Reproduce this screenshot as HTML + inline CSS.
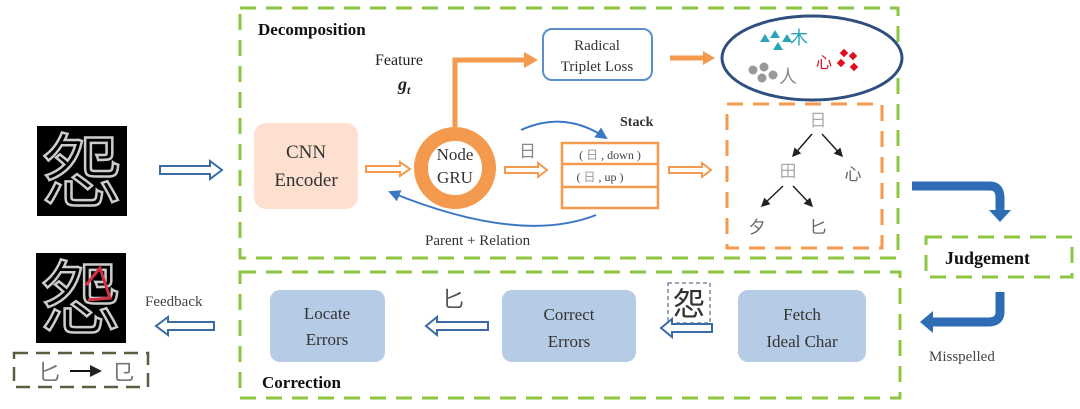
<!DOCTYPE html>
<html><head><meta charset="utf-8"><style>
html,body{margin:0;padding:0;background:#fff;}
svg{display:block;font-family:"Liberation Serif","Noto Serif CJK SC",serif;}
.cjk{font-family:"Noto Sans CJK SC",sans-serif;}
.sr{font-family:"Liberation Serif",serif;}
</style></head><body>
<svg width="1080" height="409" viewBox="0 0 1080 409" xmlns="http://www.w3.org/2000/svg">
<defs>
<marker id="bk" markerWidth="6" markerHeight="6" refX="5" refY="3" orient="auto" markerUnits="strokeWidth"><path d="M0,0 L6,3 L0,6 z" fill="#222"/></marker>
<marker id="bl" markerWidth="6" markerHeight="6" refX="5" refY="3" orient="auto" markerUnits="strokeWidth"><path d="M0,0 L6,3 L0,6 z" fill="#3b78c4"/></marker>
</defs>
<rect x="240" y="8" width="658" height="250" fill="none" stroke="#8dc63f" stroke-width="3" stroke-dasharray="16,10"/>
<rect x="240" y="272" width="660" height="126" fill="none" stroke="#8dc63f" stroke-width="3" stroke-dasharray="16,10"/>
<rect x="926" y="237" width="146" height="40" fill="none" stroke="#8dc63f" stroke-width="3" stroke-dasharray="16,10"/>
<text x="258" y="35" font-size="17" font-weight="bold" fill="#111">Decomposition</text>
<text x="262" y="388" font-size="17" font-weight="bold" fill="#111">Correction</text>
<text x="945" y="264" font-size="18" font-weight="bold" fill="#111">Judgement</text>

<rect x="37" y="126" width="90" height="90" fill="#000"/>
<text x="82" y="200" font-size="80" text-anchor="middle" fill="none" stroke="#ccc" stroke-width="2.5" class="cjk">怨</text>
<rect x="36" y="253" width="90" height="90" fill="#000"/>
<text x="81" y="327" font-size="80" text-anchor="middle" fill="none" stroke="#ccc" stroke-width="2.5" class="cjk">怨</text>
<path d="M86,285 L100,268 L110,298 L88,300" fill="none" stroke="#d03040" stroke-width="3"/>
<rect x="14" y="353" width="134" height="34" fill="none" stroke="#556040" stroke-width="2.5" stroke-dasharray="14,8"/>
<text x="38" y="380" font-size="22" fill="#777" class="cjk">匕</text>
<line x1="70" y1="371" x2="100" y2="371" stroke="#111" stroke-width="2" marker-end="url(#bk)"/>
<text x="112" y="380" font-size="22" fill="#777" class="cjk">㔾</text>

<path d="M160,166 L210,166 L210,161 L222,170 L210,179 L210,174 L160,174 z" fill="#fff" stroke="#3a6aa8" stroke-width="2"/>
<text x="145" y="306" font-size="15" fill="#444">Feedback</text>
<path d="M214,322 L168,322 L168,317 L156,326 L168,335 L168,330 L214,330 z" fill="#fff" stroke="#3a6aa8" stroke-width="2"/>

<rect x="254" y="123" width="104" height="86" rx="12" fill="#fde0cf"/>
<text x="306" y="158" font-size="19" text-anchor="middle" fill="#333">CNN</text>
<text x="306" y="186" font-size="19" text-anchor="middle" fill="#333">Encoder</text>
<path d="M366,166 L400,166 L400,162 L410,169 L400,176 L400,172 L366,172 z" fill="#fff" stroke="#f39a4e" stroke-width="2"/>
<circle cx="455" cy="168" r="34" fill="none" stroke="#f39a4e" stroke-width="14"/>
<text x="455" y="160" font-size="17" text-anchor="middle" fill="#333" class="sr">Node</text>
<text x="455" y="183" font-size="17" text-anchor="middle" fill="#333" class="sr">GRU</text>
<path d="M455,127 L455,60 L528,60" fill="none" stroke="#f39a4e" stroke-width="5"/>
<path d="M524,52 L538,60 L524,68 z" fill="#f39a4e"/>
<text x="375" y="65" font-size="16" fill="#222">Feature</text>
<text x="398" y="90" font-size="18" font-style="italic" font-weight="bold" fill="#222">g<tspan font-size="12" dy="4">t</tspan></text>

<rect x="543" y="29" width="109" height="51" rx="9" fill="#fff" stroke="#5b8fc9" stroke-width="2"/>
<text x="597" y="50" font-size="15" text-anchor="middle" fill="#333">Radical</text>
<text x="597" y="71" font-size="15" text-anchor="middle" fill="#333">Triplet Loss</text>
<path d="M670,58 L705,58" stroke="#f39a4e" stroke-width="5"/>
<path d="M703,51 L715,58 L703,65 z" fill="#f39a4e"/>
<ellipse cx="812" cy="58" rx="90" ry="42" fill="#fff" stroke="#2f4f7f" stroke-width="3"/>
<g fill="#2aa5b8"><path d="M760,42 l5,-8 l5,8z"/><path d="M770,38 l5,-8 l5,8z"/><path d="M773,50 l5,-8 l5,8z"/><path d="M782,42 l5,-8 l5,8z"/></g>
<text x="790" y="44" font-size="18" fill="#2aa5b8" class="cjk">木</text>
<g fill="#999"><circle cx="753" cy="70" r="4.5"/><circle cx="764" cy="67" r="4.5"/><circle cx="762" cy="78" r="4.5"/><circle cx="773" cy="75" r="4.5"/></g>
<text x="779" y="83" font-size="18" fill="#888" class="cjk">人</text>
<text x="816" y="68" font-size="16" fill="#e01020" class="cjk">心</text>
<g fill="#e01020"><rect x="841" y="50" width="6" height="6" transform="rotate(45 844 53)"/><rect x="850" y="53" width="6" height="6" transform="rotate(45 853 56)"/><rect x="838" y="60" width="6" height="6" transform="rotate(45 841 63)"/><rect x="851" y="64" width="6" height="6" transform="rotate(45 854 67)"/></g>

<text x="519" y="157" font-size="17" fill="#888" class="cjk">日</text>
<path d="M521,130 Q565,110 606,138" fill="none" stroke="#3b78c4" stroke-width="2" marker-end="url(#bl)"/>
<text x="620" y="126" font-size="14" font-weight="bold" fill="#333">Stack</text>
<path d="M505,167 L538,167 L538,163 L547,170 L538,177 L538,173 L505,173 z" fill="#fff" stroke="#f39a4e" stroke-width="2"/>
<rect x="562" y="143" width="96" height="65" fill="#fff" stroke="#f39a4e" stroke-width="2.5"/>
<line x1="562" y1="164" x2="658" y2="164" stroke="#f39a4e" stroke-width="2.5"/>
<line x1="562" y1="187" x2="658" y2="187" stroke="#f39a4e" stroke-width="2.5"/>
<text x="610" y="159" font-size="12" text-anchor="middle" fill="#444">( <tspan class="cjk" fill="#999">日</tspan> , down )</text>
<text x="600" y="181" font-size="12" text-anchor="middle" fill="#444">( <tspan class="cjk" fill="#999">日</tspan> , up )</text>
<path d="M596,215 Q520,245 390,192" fill="none" stroke="#3b78c4" stroke-width="2" marker-end="url(#bl)"/>
<text x="425" y="245" font-size="15" fill="#333">Parent  + Relation</text>
<path d="M669,167 L702,167 L702,163 L711,170 L702,177 L702,173 L669,173 z" fill="#fff" stroke="#f39a4e" stroke-width="2"/>

<rect x="727" y="104" width="155" height="144" fill="none" stroke="#f39a4e" stroke-width="3" stroke-dasharray="16,10"/>
<text x="818" y="126" font-size="17" text-anchor="middle" fill="#aaa" class="cjk">日</text>
<text x="788" y="177" font-size="17" text-anchor="middle" fill="#aaa" class="cjk">田</text>
<text x="853" y="180" font-size="17" text-anchor="middle" fill="#666" class="cjk">心</text>
<text x="757" y="233" font-size="17" text-anchor="middle" fill="#666" class="cjk">夕</text>
<text x="818" y="233" font-size="17" text-anchor="middle" fill="#666" class="cjk">匕</text>
<g stroke="#222" stroke-width="1.5" marker-end="url(#bk)">
<line x1="812" y1="134" x2="793" y2="156"/><line x1="822" y1="134" x2="842" y2="156"/>
<line x1="783" y1="186" x2="762" y2="206"/><line x1="793" y1="186" x2="812" y2="206"/>
</g>

<path d="M912,186 L990,186 Q1000,186 1000,198 L1000,212" fill="none" stroke="#2e6db4" stroke-width="9"/>
<path d="M989,210 L1011,210 L1000,222 z" fill="#2e6db4"/>
<path d="M1000,292 L1000,312 Q1000,322 988,322 L930,322" fill="none" stroke="#2e6db4" stroke-width="9"/>
<path d="M933,311 L920,322 L933,333 z" fill="#2e6db4"/>
<text x="929" y="361" font-size="15" fill="#444">Misspelled</text>

<rect x="270" y="290" width="115" height="72" rx="10" fill="#b6cbe6"/>
<text x="327" y="319" font-size="17" text-anchor="middle" fill="#333">Locate</text>
<text x="327" y="345" font-size="17" text-anchor="middle" fill="#333">Errors</text>
<rect x="502" y="290" width="134" height="72" rx="10" fill="#b6cbe6"/>
<text x="569" y="320" font-size="17" text-anchor="middle" fill="#333">Correct</text>
<text x="569" y="347" font-size="17" text-anchor="middle" fill="#333">Errors</text>
<rect x="738" y="290" width="128" height="72" rx="10" fill="#b6cbe6"/>
<text x="802" y="320" font-size="17" text-anchor="middle" fill="#333">Fetch</text>
<text x="802" y="347" font-size="17" text-anchor="middle" fill="#333">Ideal Char</text>
<text x="442" y="307" font-size="22" fill="#555" class="cjk">匕</text>
<path d="M488,322 L437,322 L437,317 L426,326 L437,335 L437,330 L488,330 z" fill="#fff" stroke="#3a6aa8" stroke-width="2"/>
<rect x="668" y="283" width="42" height="40" fill="#fff" stroke="#7a8aa0" stroke-width="1.5" stroke-dasharray="4,3"/>
<text x="689" y="315" font-size="32" text-anchor="middle" fill="#333" class="cjk">怨</text>
<path d="M712,324 L672,324 L672,319 L661,328 L672,337 L672,332 L712,332 z" fill="#fff" stroke="#3a6aa8" stroke-width="2"/>
</svg>
</body></html>
